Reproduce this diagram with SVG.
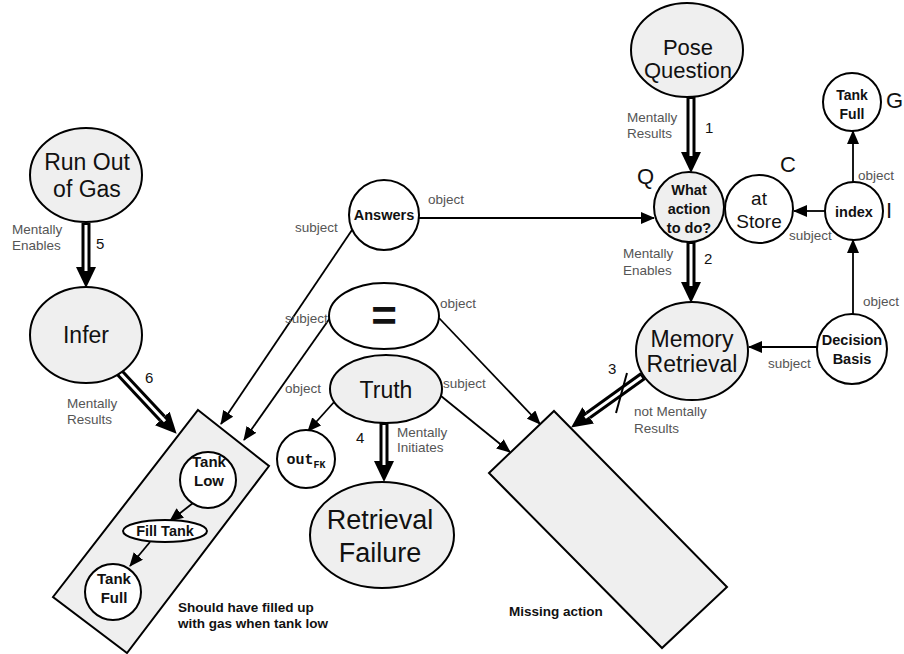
<svg xmlns="http://www.w3.org/2000/svg" width="904" height="654" viewBox="0 0 904 654">
<style>
  .bg{fill:#ffffff}
  .g{fill:#efefef;stroke:#000;stroke-width:2}
  .w{fill:#ffffff;stroke:#000;stroke-width:2}
  .t{font-family:"Liberation Sans",Arial,sans-serif;fill:#111;text-anchor:middle}
  .b{font-weight:bold}
  .lbl{font-family:"Liberation Sans",Arial,sans-serif;font-size:13.5px;fill:#555}
  .num{font-family:"Liberation Sans",Arial,sans-serif;font-size:15px;fill:#111}
  .let{font-family:"Liberation Sans",Arial,sans-serif;font-size:22px;fill:#111}
  .cap{font-family:"Liberation Sans",Arial,sans-serif;font-size:13.5px;font-weight:bold;fill:#111}
  .s{stroke:#000;stroke-width:1.8;fill:none;marker-end:url(#ah)}
  .dO{stroke:#000;stroke-width:9;fill:none;marker-end:url(#dh)}
  .dI{stroke:#fff;stroke-width:3;fill:none}
</style>
<defs>
  <marker id="ah" markerUnits="userSpaceOnUse" markerWidth="14" markerHeight="12" refX="13" refY="6" orient="auto">
    <path d="M0,0 L14,6 L0,12 z" fill="#000"/>
  </marker>
  <marker id="dh" markerUnits="userSpaceOnUse" markerWidth="22" markerHeight="20" refX="0" refY="10" orient="auto">
    <path d="M0,0 L21,10 L0,20 z" fill="#000"/>
  </marker>
</defs>
<rect class="bg" x="0" y="0" width="904" height="654"/>

<g id="missing-action">
  <polygon class="g" points="554,411 727,587 662,648 489,473"/>
  <text class="cap" x="509" y="616">Missing action</text>
</g>
<g id="plan">
  <polygon class="g" points="198,410 269,466 127,653 53,597"/>
  <text class="cap" x="178" y="612">Should have filled up</text>
  <text class="cap" x="178" y="628">with gas when tank low</text>
</g>

<g id="connectors">
  <!-- double arrows -->
  <line class="dO" x1="691" y1="97" x2="691" y2="152"/>
  <line class="dI" x1="691" y1="99" x2="691" y2="156"/>
  <line class="dO" x1="691" y1="242" x2="691" y2="282"/>
  <line class="dI" x1="691" y1="244" x2="691" y2="286"/>
  <line class="dO" x1="384" y1="423" x2="384" y2="461"/>
  <line class="dI" x1="384" y1="425" x2="384" y2="465"/>
  <line class="dO" x1="86" y1="223" x2="86" y2="267"/>
  <line class="dI" x1="86" y1="225" x2="86" y2="271"/>
  <line class="dO" x1="119" y1="372" x2="162.3" y2="418.4"/>
  <line class="dI" x1="120.4" y1="373.5" x2="165" y2="421.3"/>
  <line class="dO" x1="643" y1="376" x2="588.2" y2="415.3"/>
  <line class="dI" x1="641.4" y1="377.2" x2="585" y2="417.6"/>
  <line x1="627" y1="373" x2="616" y2="413" stroke="#000" stroke-width="2"/>
  <!-- single arrows -->
  <line class="s" x1="419" y1="218" x2="654" y2="218"/>
  <line class="s" x1="825" y1="211" x2="794" y2="211"/>
  <line class="s" x1="853" y1="183" x2="853" y2="131"/>
  <line class="s" x1="853" y1="314" x2="853" y2="240"/>
  <line class="s" x1="817" y1="347" x2="749" y2="347"/>
  <line class="s" x1="352" y1="230" x2="221" y2="424"/>
  <line class="s" x1="330" y1="318" x2="244" y2="440"/>
  <line class="s" x1="439" y1="318" x2="540" y2="424"/>
  <line class="s" x1="441" y1="396" x2="510" y2="452"/>
  <line class="s" x1="335" y1="401" x2="308" y2="431"/>
  <line class="s" x1="193" y1="503" x2="170" y2="521"/>
  <line class="s" x1="150" y1="542" x2="130" y2="566"/>
  <!-- connector labels -->
  <text class="lbl" x="627" y="122">Mentally</text>
  <text class="lbl" x="627" y="138">Results</text>
  <text class="num" x="705" y="133">1</text>
  <text class="lbl" x="623" y="258">Mentally</text>
  <text class="lbl" x="623" y="275">Enables</text>
  <text class="num" x="704" y="264">2</text>
  <text class="num" x="608" y="374">3</text>
  <text class="lbl" x="634" y="416">not Mentally</text>
  <text class="lbl" x="634" y="433">Results</text>
  <text class="num" x="356" y="443">4</text>
  <text class="lbl" x="397" y="437">Mentally</text>
  <text class="lbl" x="397" y="452">Initiates</text>
  <text class="num" x="96" y="249">5</text>
  <text class="lbl" x="12" y="234">Mentally</text>
  <text class="lbl" x="12" y="250">Enables</text>
  <text class="num" x="145" y="383">6</text>
  <text class="lbl" x="67" y="408">Mentally</text>
  <text class="lbl" x="67" y="424">Results</text>
  <text class="lbl" x="428" y="204">object</text>
  <text class="lbl" x="295" y="232">subject</text>
  <text class="lbl" x="440" y="308">object</text>
  <text class="lbl" x="285" y="323">subject</text>
  <text class="lbl" x="285" y="393">object</text>
  <text class="lbl" x="443" y="388">subject</text>
  <text class="lbl" x="858" y="180">object</text>
  <text class="lbl" x="789" y="240">subject</text>
  <text class="lbl" x="863" y="306">object</text>
  <text class="lbl" x="768" y="368">subject</text>
</g>

<g id="pose-question">
  <ellipse class="g" cx="687" cy="50" rx="56" ry="47"/>
  <text class="t" x="688" y="55" font-size="22">Pose</text>
  <text class="t" x="688" y="78" font-size="22">Question</text>
</g>
<g id="what-action">
  <circle class="g" cx="689" cy="207" r="35"/>
  <text class="t b" x="689" y="195" font-size="14.5">What</text>
  <text class="t b" x="689" y="214" font-size="14.5">action</text>
  <text class="t b" x="689" y="233" font-size="14.5">to do?</text>
  <text class="let" x="637" y="184">Q</text>
</g>
<g id="at-store">
  <circle class="w" cx="759" cy="209" r="34"/>
  <text class="t" x="759" y="205" font-size="19">at</text>
  <text class="t" x="759" y="228" font-size="19">Store</text>
  <text class="let" x="780" y="172">C</text>
</g>
<g id="index">
  <circle class="w" cx="854" cy="211" r="29"/>
  <text class="t b" x="854" y="217" font-size="14.5">index</text>
  <text class="let" x="886" y="218">I</text>
</g>
<g id="tank-full-g">
  <circle class="w" cx="852" cy="102" r="29"/>
  <text class="t b" x="852" y="100" font-size="14">Tank</text>
  <text class="t b" x="852" y="119" font-size="14">Full</text>
  <text class="let" x="886" y="108">G</text>
</g>
<g id="decision-basis">
  <circle class="w" cx="852" cy="349" r="35"/>
  <text class="t b" x="852" y="345" font-size="14.5">Decision</text>
  <text class="t b" x="852" y="364" font-size="14.5">Basis</text>
</g>
<g id="memory-retrieval">
  <ellipse class="g" cx="692" cy="351" rx="56" ry="49"/>
  <text class="t" x="692" y="347" font-size="23">Memory</text>
  <text class="t" x="692" y="372" font-size="23">Retrieval</text>
</g>
<g id="answers">
  <circle class="w" cx="384" cy="215" r="35"/>
  <text class="t b" x="384" y="220" font-size="14.5">Answers</text>
</g>
<g id="equals">
  <ellipse class="w" cx="384" cy="316" rx="55" ry="33"/>
  <text class="t b" x="384" y="331" font-size="44">=</text>
</g>
<g id="truth">
  <ellipse class="g" cx="386" cy="389" rx="56" ry="34"/>
  <text class="t" x="386" y="398" font-size="23">Truth</text>
</g>
<g id="out-fk">
  <circle class="w" cx="306" cy="459" r="29"/>
  <text x="306" y="464" text-anchor="middle" font-family="'Liberation Mono','Courier New',monospace" font-weight="bold" font-size="15" fill="#111">out<tspan font-size="10" dy="4">FK</tspan></text>
</g>
<g id="retrieval-failure">
  <ellipse class="g" cx="382" cy="535" rx="72" ry="53"/>
  <text class="t" x="380" y="529" font-size="27">Retrieval</text>
  <text class="t" x="380" y="562" font-size="27">Failure</text>
</g>
<g id="run-out-of-gas">
  <ellipse class="g" cx="86" cy="175" rx="56" ry="47"/>
  <text class="t" x="87" y="170" font-size="23">Run Out</text>
  <text class="t" x="87" y="197" font-size="23">of Gas</text>
</g>
<g id="infer">
  <ellipse class="g" cx="86" cy="335" rx="56" ry="48"/>
  <text class="t" x="86" y="343" font-size="23">Infer</text>
</g>
<g id="tank-low">
  <circle class="w" cx="208" cy="480" r="28"/>
  <text class="t b" x="209" y="467" font-size="15">Tank</text>
  <text class="t b" x="209" y="486" font-size="15">Low</text>
</g>
<g id="fill-tank">
  <ellipse class="w" cx="165" cy="531" rx="42" ry="11"/>
  <text class="t b" x="165" y="536" font-size="14.5">Fill Tank</text>
</g>
<g id="tank-full">
  <circle class="w" cx="113" cy="592" r="28"/>
  <text class="t b" x="114" y="584" font-size="15">Tank</text>
  <text class="t b" x="114" y="603" font-size="15">Full</text>
</g>
</svg>
